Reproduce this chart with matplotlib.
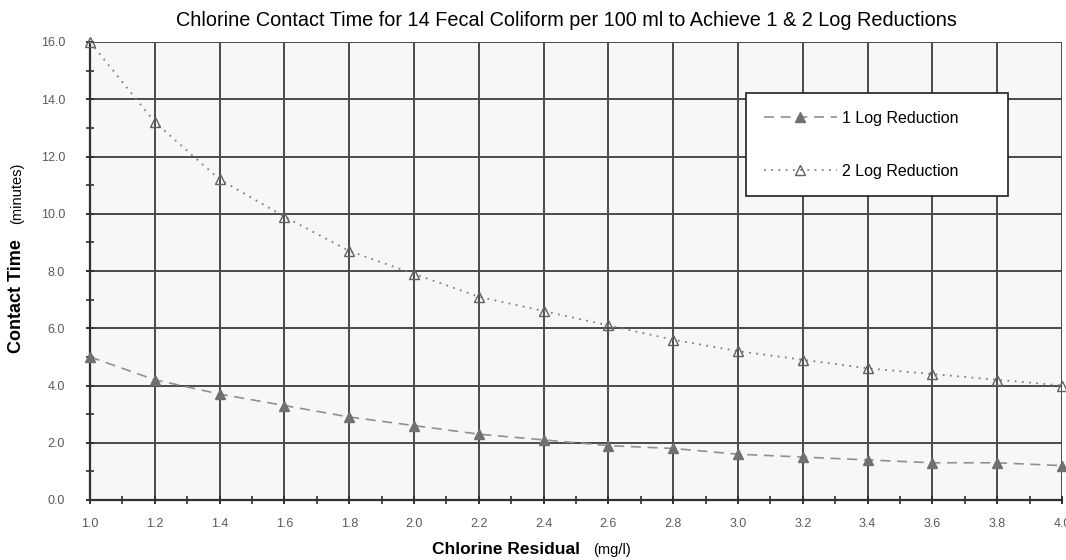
import numpy as np
import matplotlib.pyplot as plt
from matplotlib.ticker import MultipleLocator, FormatStrFormatter

plt.rcParams['font.family'] = ['Liberation Sans', 'DejaVu Sans']

# chlorine residual (mg/l)
residual = [1.0, 1.2, 1.4, 1.6, 1.8, 2.0, 2.2, 2.4, 2.6, 2.8, 3.0, 3.2, 3.4, 3.6, 3.8, 4.0]
# contact time (minutes)
log1 = [5.0, 4.2, 3.7, 3.3, 2.9, 2.6, 2.3, 2.1, 1.9, 1.8, 1.6, 1.5, 1.4, 1.3, 1.3, 1.2]
log2 = [16.0, 13.2, 11.2, 9.9, 8.7, 7.9, 7.1, 6.6, 6.1, 5.6, 5.2, 4.9, 4.6, 4.4, 4.2, 4.0]

title = "Chlorine Contact Time for 14 Fecal Coliform per 100 ml to Achieve 1 & 2 Log Reductions"

W, H = 1066, 560
fig = plt.figure(figsize=(W / 100, H / 100), dpi=100)
ax = fig.add_axes([90 / W, 1 - 500 / H, 972 / W, 458 / H])
ax.set_facecolor('#f7f7f7')

ax.plot(residual, log1, linestyle=(0, (6, 4)), color='#909090', lw=1.2,
        marker='^', markersize=7.5, markerfacecolor='#707070', markeredgecolor='#707070',
        label='1 Log Reduction', clip_on=False, zorder=3)
ax.plot(residual, log2, linestyle=(0, (1, 3)), color='#808080', lw=1.3,
        marker='^', markersize=7.5, markerfacecolor='none', markeredgecolor='#606060',
        label='2 Log Reduction', clip_on=False, zorder=3)

ax.set_xlim(1.0, 4.0)
ax.set_ylim(0, 16)
ax.xaxis.set_major_locator(MultipleLocator(0.2))
ax.xaxis.set_minor_locator(MultipleLocator(0.1))
ax.yaxis.set_major_locator(MultipleLocator(2.0))
ax.yaxis.set_minor_locator(MultipleLocator(1.0))
ax.xaxis.set_major_formatter(FormatStrFormatter('%.1f'))
ax.yaxis.set_major_formatter(FormatStrFormatter('%.1f'))
ax.grid(True, which='major', color='#4a4a4a', lw=1.4, zorder=1)
ax.set_axisbelow(True)
ax.tick_params(which='both', direction='inout', colors='#303030', labelcolor='#5a5a5a',
               labelsize=9)
ax.tick_params(which='major', length=6, width=1.4)
ax.tick_params(which='minor', length=6, width=1.2)
ax.tick_params(axis='x', pad=10)
ax.tick_params(axis='y', pad=15)
for side in ['top', 'right']:
    ax.spines[side].set_visible(False)
for side in ['left', 'bottom']:
    ax.spines[side].set_color('#303030')
    ax.spines[side].set_linewidth(1.6)

leg = ax.legend(loc='upper left', bbox_to_anchor=(0.675, 0.6, 0.2695, 0.2886), mode='expand',
                frameon=True, fancybox=False, edgecolor='#202020', framealpha=1, fontsize=11.5,
                borderpad=1.1, labelspacing=2.4, handlelength=4.6, handletextpad=0.3,
                borderaxespad=0)
leg.get_frame().set_linewidth(1.2)

fig.text(566 / W, 1 - 20 / H, title, ha='center', va='center', fontsize=14.3)
fig.text(432 / W, 1 - 550 / H, "Chlorine Residual", ha='left', va='center',
         fontsize=12.5, fontweight='bold')
fig.text(593 / W, 1 - 550 / H, "(mg/l)", ha='left', va='center', fontsize=10.5)
fig.text(17 / W, 1 - 353 / H, "Contact Time", ha='center', va='bottom',
         rotation=90, fontsize=13, fontweight='bold')
fig.text(17 / W, 1 - 224 / H, "(minutes)", ha='center', va='bottom',
         rotation=90, fontsize=10.5)

fig.savefig('out.png', dpi=100)
